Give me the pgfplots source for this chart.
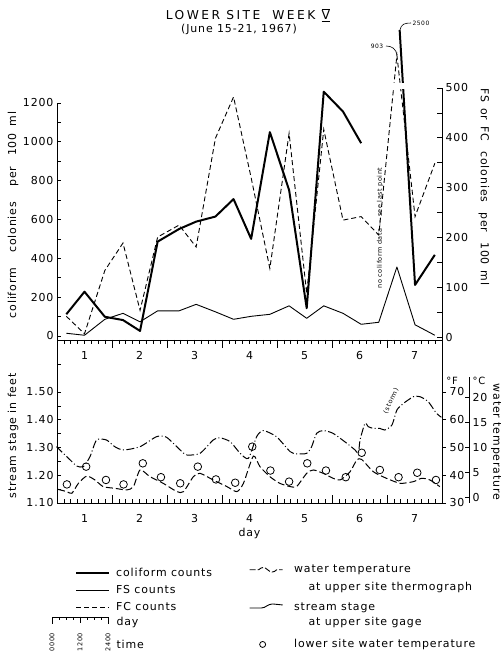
\documentclass[border=0pt]{standalone}
\usepackage{fontspec}
\setmainfont[LetterSpace=8]{DejaVu Sans}
\newfontfamily\titlefont[LetterSpace=20]{DejaVu Sans}
\usepackage{pgfplots}
\pgfplotsset{compat=1.18}
\begin{document}
\begin{tikzpicture}[x=1bp,y=1bp]
\useasboundingbox (0,0) rectangle (504,656);
\pgfplotsset{
  every axis/.append style={scale only axis, width=385bp, xmin=0.5, xmax=7.5, clip=false,
    /pgf/number format/assume math mode=true,
    tick label style={font=\fontsize{11}{13}\selectfont},
    axis line style={line width=0.8pt},
    tick style={line width=0.7pt, black},
    tick align=inside},
}
% ---------- top panel, left scale (coliform) ----------
\begin{axis}[at={(57bp,316bp)}, anchor=south west, height=237bp,
  ymin=-20.6, ymax=1200,
  axis y line*=left, axis x line*=bottom, axis line style={-},
  xtick={1,...,7}, xtick style={draw=none}, xticklabel style={yshift=-8bp},
  ytick={0,200,...,1200}, minor ytick={100,300,...,1100},
  major tick length=4bp, minor tick length=4bp,
  yticklabel style={/pgf/number format/1000 sep={}},
]
\addplot[black, line width=2pt, line join=round] coordinates {
(0.67,112) (1.0,228) (1.37,99) (1.70,82) (2.01,26) (2.33,486) (2.72,551) (3.03,589)
(3.38,615) (3.71,705) (4.03,500) (4.37,1050) (4.72,752) (5.04,143) (5.35,1258)
(5.70,1156) (6.03,993)};
\addplot[black, line width=2pt, line join=round] coordinates {
(6.73,1576) (7.01,263) (7.37,418)};
\end{axis}
% ---------- top panel, right scale (FS, FC) ----------
\begin{axis}[at={(57bp,316bp)}, anchor=south west, height=252bp,
  ymin=-5.5, ymax=500,
  axis y line*=right, axis x line=none, axis line style={-}, xtick=\empty,
  ytick={0,100,...,500}, minor ytick={50,150,...,450},
  major tick length=5bp, minor tick length=5bp,
]
\addplot[black, line width=0.9pt, line join=round] coordinates {
(0.67,8) (1.0,4) (1.37,36) (1.70,48) (2.01,31) (2.33,53) (2.72,53) (3.03,66)
(3.38,51) (3.71,36) (4.03,42) (4.37,46) (4.72,63) (5.04,38) (5.35,63) (5.70,48)
(6.03,26) (6.35,30) (6.68,141) (7.01,25) (7.37,4)};
\addplot[black, line width=0.9pt, dash pattern=on 5bp off 3bp] coordinates {
(0.67,42) (1.0,7) (1.37,134) (1.70,189) (2.01,54) (2.33,201) (2.72,225) (3.03,181)
(3.38,399) (3.71,482) (4.03,320) (4.37,138) (4.72,409) (5.04,88) (5.35,417)
(5.70,235) (6.03,242) (6.35,205) (6.68,566) (7.01,242) (7.37,349)};
\end{axis}
% break in the off-scale spikes
\fill[white] (388,567) rectangle (410,573);
% ---------- bottom panel, stream stage ----------
\begin{axis}[at={(57bp,153bp)}, anchor=south west, height=163bp,
  ymin=1.10, ymax=1.6874,
  xtick={1,...,7}, minor xtick={0.5,0.625,...,7.5},
  extra x ticks={1.5,2.5,...,6.5}, extra x tick labels={},
  extra x tick style={major tick length=8bp},
  xtick pos=both, xticklabel pos=bottom, xticklabel style={yshift=-8bp},
  ytick={1.10,1.20,1.30,1.40,1.50}, minor ytick={1.15,1.25,1.35,1.45,1.60},
  ytick pos=left,
  yticklabel style={/pgf/number format/.cd, fixed, fixed zerofill, precision=2},
  major tick length=4bp, minor tick length=4bp,
  xlabel={day}, xlabel style={font=\fontsize{11}{13}\selectfont, yshift=1bp},
]
\addplot[black, line width=1pt, smooth, tension=0.4,
  dash pattern=on 8bp off 2.5bp on 1bp off 2.5bp] coordinates {
(0.49,1.303) (0.74,1.255) (0.86,1.233) (0.98,1.231) (1.10,1.267) (1.22,1.327)
(1.40,1.327) (1.55,1.303) (1.71,1.291) (2.01,1.303) (2.31,1.339) (2.49,1.337)
(2.74,1.291) (2.86,1.273) (3.10,1.279) (3.34,1.327) (3.46,1.335) (3.65,1.321)
(3.83,1.279) (3.98,1.261) (4.13,1.339) (4.25,1.361) (4.49,1.339) (4.74,1.285)
(4.86,1.277) (5.04,1.279) (5.13,1.303) (5.22,1.351) (5.34,1.361) (5.52,1.351)
(5.77,1.315) (5.92,1.291) (5.98,1.279) (6.01,1.327) (6.10,1.387) (6.16,1.375)
(6.25,1.369) (6.37,1.369) (6.46,1.363) (6.59,1.381) (6.68,1.435) (6.80,1.459)
(6.98,1.483) (7.10,1.483) (7.25,1.465) (7.40,1.423) (7.49,1.409)};
\end{axis}
% ---------- bottom panel, water temperature (deg F) ----------
\begin{axis}[at={(57bp,153bp)}, anchor=south west, height=163bp,
  ymin=30, ymax=88.74,
  axis y line*=right, axis x line=none, axis line style={-}, xtick=\empty,
  ytick={30,40,...,70}, tick align=outside, major tick length=4bp,
]
\addplot[black, line width=1pt, smooth, tension=0.4,
  dash pattern=on 7bp off 3bp] coordinates {
(0.52,34.9) (0.68,34.1) (0.77,33.5) (0.89,37.1) (1.04,39.7) (1.19,38.3) (1.34,35.9)
(1.55,35.3) (1.77,34.7) (1.89,35.9) (2.01,41.9) (2.19,39.5) (2.43,37.1) (2.68,34.1)
(2.80,34.1) (2.98,39.5) (3.10,40.7) (3.34,38.3) (3.59,35.9) (3.77,34.1) (3.89,37.1)
(4.07,46.9) (4.19,43.1) (4.37,39.5) (4.55,37.1) (4.74,35.9) (4.86,36.0) (5.04,40.7)
(5.16,41.9) (5.34,40.7) (5.52,38.9) (5.65,38.3) (5.83,41.3) (5.95,45.5) (6.04,45.7)
(6.25,41.3) (6.49,38.9) (6.74,37.1) (6.98,37.7) (7.13,38.9) (7.28,38.3) (7.46,35.9)};
\addplot[only marks, mark=o, mark size=3.8bp, mark options={black, line width=0.8pt}] coordinates {
(0.68,36.7) (1.03,43.1) (1.39,38.3) (1.71,36.7) (2.06,44.3) (2.39,39.3) (2.74,37.1)
(3.06,43.1) (3.39,38.5) (3.74,37.3) (4.05,50.3) (4.38,41.7) (4.72,37.7) (5.05,44.3)
(5.39,41.7) (5.75,39.3) (6.04,48.1) (6.37,41.9) (6.71,39.3) (7.05,40.9) (7.39,38.3)};
\end{axis}
% ---------- deg C scale ----------
\begin{axis}[at={(57bp,153bp)}, anchor=south west, width=412bp, height=126bp,
  ymin=-1.111, ymax=24.12,
  axis y line*=right, axis x line=none, axis line style={-}, xtick=\empty,
  ytick={0,5,...,20}, tick align=inside, major tick length=4bp,
]
\end{axis}
% ---------- legends ----------
\begin{axis}[at={(0bp,0bp)}, anchor=south west, width=504bp, height=656bp, hide axis,
  xmin=0, xmax=1, ymin=0, ymax=1,
  legend style={at={(75/504,1-566/656)}, anchor=north west, draw=none, fill=none,
    font=\fontsize{11}{13}\selectfont, row sep=3.5bp, inner sep=0pt},
  legend cell align=left,
  legend image code/.code={\draw[#1] (0bp,0bp) -- (33bp,0bp);},
]
\addlegendimage{black, line width=2pt}\addlegendentry{\hspace{4bp}coliform counts}
\addlegendimage{black, line width=0.9pt}\addlegendentry{\hspace{4bp}FS counts}
\addlegendimage{black, line width=0.9pt, dash pattern=on 5bp off 3bp}\addlegendentry{\hspace{4bp}FC counts}
\end{axis}
\begin{axis}[at={(0bp,0bp)}, anchor=south west, width=504bp, height=656bp, hide axis,
  xmin=0, xmax=1, ymin=0, ymax=1,
  legend style={at={(249/504,1-563/656)}, anchor=north west, draw=none, fill=none,
    font=\fontsize{11}{13}\selectfont, row sep=24bp, inner sep=0pt},
  legend cell align=left,
]
\addlegendimage{legend image code/.code={\draw[black,line width=0.9pt,dash pattern=on 6bp off 2bp]
  (0bp,0bp) -- (9bp,0bp) .. controls (12bp,3bp) and (15bp,3bp) .. (18bp,0bp)
  .. controls (21bp,-3bp) and (24bp,-3bp) .. (27bp,0bp) -- (33bp,0bp);}}
\addlegendentry{\hspace{9bp}water temperature}
\addlegendimage{legend image code/.code={\draw[black,line width=0.9pt]
  (0bp,-1bp) -- (12bp,-1bp) .. controls (16bp,-1bp) and (18bp,3bp) .. (23bp,3bp) -- (33bp,2bp);}}
\addlegendentry{\hspace{9bp}stream stage}
\addlegendimage{legend image code/.code={\path[draw=none] (0bp,0bp) -- (33bp,0bp);
  \draw[black, line width=0.8pt] (13bp,0bp) circle[radius=3bp];}}
\addlegendentry{\hspace{9bp}lower site water temperature}
\end{axis}
\node[anchor=west, font=\fontsize{11}{13}\selectfont] at (305,69) {at upper site thermograph};
\node[anchor=west, font=\fontsize{11}{13}\selectfont] at (305,34) {at upper site gage};
% ---------- texts ----------
\node[font=\titlefont\fontsize{12.3}{14}\selectfont] at (248,641) {LOWER SITE\hspace{12bp}WEEK $\overline{\underline{\mbox{V}}}$};
\node[font=\fontsize{11}{13}\selectfont] at (239,627) {(June 15-21, 1967)};
\node[rotate=90, font=\fontsize{11}{13}\selectfont] at (13,441) {coliform\hspace{15bp}colonies\hspace{15bp}per\hspace{11bp}100\hspace{7bp}ml};
\node[rotate=-90, font=\fontsize{11}{13}\selectfont] at (484,469) {FS\hspace{6bp}or\hspace{6bp}FC\hspace{10bp}colonies\hspace{10bp}per\hspace{10bp}100\hspace{6bp}ml};
\node[rotate=90, font=\fontsize{11}{13}\selectfont] at (13,220) {stream stage in feet};
\node[rotate=-90, font=\fontsize{11}{13}\selectfont] at (496,214) {water temperature};
\node[font=\fontsize{10}{12}\selectfont] at (452,275) {°F};
\node[font=\fontsize{10}{12}\selectfont] at (479,275) {°C};
\node[font=\fontsize{6}{7}\selectfont] at (421,633) {2500};
\draw[line width=0.6pt] (400,626) .. controls (401,632) and (405,633) .. (411,633);
\node[font=\fontsize{6}{7}\selectfont] at (377,610) {903};
\draw[line width=0.6pt] (397,601) .. controls (396,607) and (392,610) .. (386,610);
\node[rotate=65, font=\fontsize{6.5}{8}\selectfont] at (391,255) {(storm)};
\node[rotate=90, font=\fontsize{6.5}{8}\selectfont] at (380,428) {no coliform data --- see last point};
% ---------- day/time key ----------
\draw[line width=0.7pt] (52,32) -- (52,39) -- (108,39) -- (108,32);
\foreach \i in {1,...,7} {\draw[line width=0.6pt] (52+7*\i,39) -- (52+7*\i,36);}
\draw[line width=0.7pt] (80,39) -- (80,33);
\node[anchor=west, font=\fontsize{11}{13}\selectfont] at (113,34) {day};
\node[anchor=west, font=\fontsize{11}{13}\selectfont] at (113,12) {time};
\node[rotate=90, font=\fontsize{6.5}{8}\selectfont] at (52,14) {0000};
\node[rotate=90, font=\fontsize{6.5}{8}\selectfont] at (80,14) {1200};
\node[rotate=90, font=\fontsize{6.5}{8}\selectfont] at (108,14) {2400};
\end{tikzpicture}
\end{document}
